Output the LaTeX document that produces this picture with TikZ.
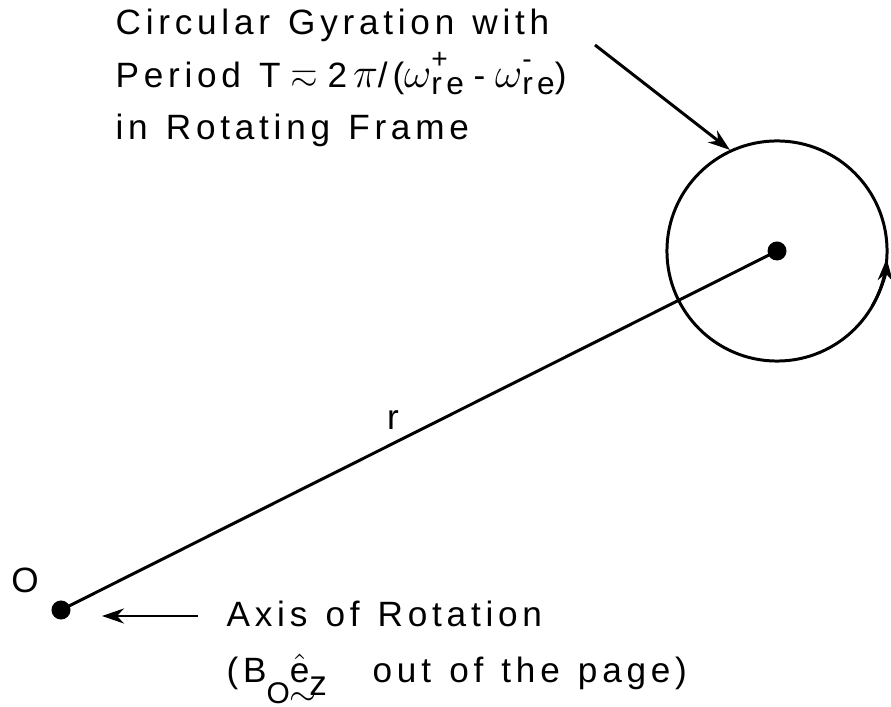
\documentclass[tikz,border=0pt]{standalone}
\usepackage{fontspec}
\usepackage{amsmath}
\usepackage{amssymb}
\setmainfont{Liberation Sans}[LetterSpace=13.5, WordSpace=1.25]
\usetikzlibrary{arrows.meta}
\tikzset{
  dot/.style={circle, fill=black, inner sep=0pt, minimum size=0.19cm},
  lbl/.style={align=left, inner sep=0pt, font=\fontsize{10}{15}\selectfont},
  arw/.style={-{Stealth[length=0.22cm, width=0.15cm]}, line width=0.85pt},
  ln/.style={line width=0.85pt},
}
\newcommand{\lgsym}[1]{{\fontsize{12}{14}\selectfont$#1$}}
\newcommand{\wre}[1]{\lgsym{\omega}\rlap{\raisebox{5.3pt}{\fontsize{8}{9}\selectfont #1}}\raisebox{-2pt}{\fontsize{9}{10}\selectfont re}}

\begin{document}
\begin{tikzpicture}[x=0.01cm, y=0.01cm]
  \useasboundingbox (0,0) rectangle (891,706);
  \node (orig) [dot] at (61,96) {};
  \node (ctr)  [dot] at (777,455) {};
  \node (gyro) [circle, draw, ln, minimum size=2.2cm, inner sep=0pt] at (ctr) {};
  \draw[ln] (orig.center) -- (ctr.center);
  \node (olbl) [lbl] at (25,126) {O};
  \node (rlbl) [lbl] at (393,286) {r};
  % sense of gyration
  \draw[arw] (ctr) ++(-30:110) arc[start angle=-30, end angle=-4, radius=110];
  \node (gyrtxt) [lbl, anchor=base west] at (115,566)
    {Circular Gyration with\\Period T\;$\eqsim$\;2\,\lgsym{\pi}/(\wre{+}\;-\;\wre{-})\\in Rotating Frame};
  \coordinate (gtail) at (595,661);
  \draw[arw] (gtail) -- (gyro.115);
  \node (axtxt) [lbl, anchor=base west] at (226,24)
    {Axis of Rotation\\[0.7pt](B\raisebox{-6pt}{\fontsize{8.5}{10}\selectfont O}\rlap{\raisebox{-6.8pt}{$\sim$}}$\hat{\text{e}}$\raisebox{-3.7pt}{z}\hspace{1.3em}out of the page)};
  \coordinate (atail) at (198,90);
  \coordinate (ahead) at (102,90);
  \draw[arw] (atail) -- (ahead);
\end{tikzpicture}
\end{document}
